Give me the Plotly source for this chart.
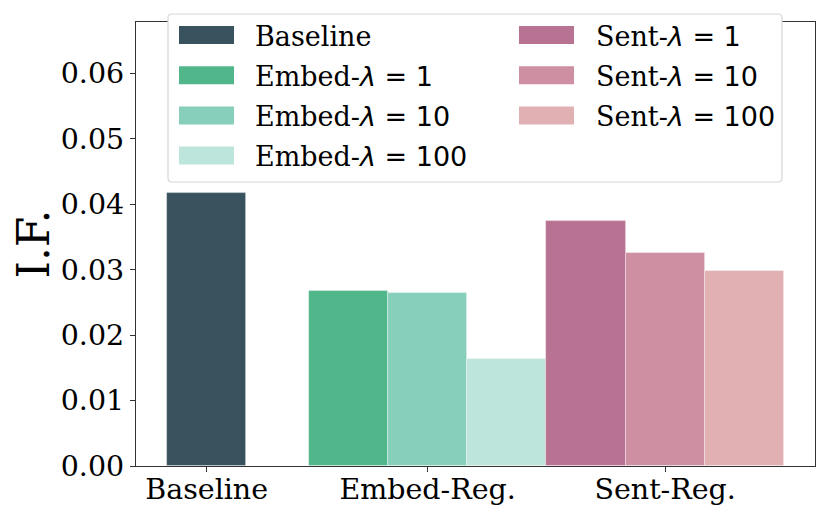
import plotly.graph_objects as go

# ---- data ----
groups = ["Baseline", "Embed-Reg.", "Sent-Reg."]
baseline_name = "Baseline"
baseline_vals = [0.0417]
lambdas = [1, 10, 100]
embed_vals = [0.0268, 0.0264, 0.0163]
sent_vals = [0.0374, 0.0325, 0.0298]
yticks = [0.00, 0.01, 0.02, 0.03, 0.04, 0.05, 0.06]

# ---- style ----
baseline_color = "#39535e"
embed_colors = ["#52b68b", "#87cfba", "#bde5dc"]
sent_colors = ["#b87393", "#cf8fa3", "#e1b0b3"]
SERIF = "DejaVu Serif"
SANS = "DejaVu Sans"

# page is offset by the default 8px body margin
OFF = 8
W, H = 830 - 2 * OFF, 519 - 2 * OFF
# plot area in page pixels: x 136..815, y 22..466
PL, PR, PT, PB = 136, 815, 22, 466
L, T = PL - OFF, PT - OFF
R = W - (PR - OFF)
B = H - (PB - OFF)
pw, ph = PR - PL, PB - PT

group_pos = [0.0695, 1.0, 2.0]
bw = 1 / 3
offsets = [-bw, 0.0, bw]
edge = dict(color="rgba(255,255,255,0.45)", width=0.8)

fig = go.Figure()
fig.add_trace(go.Bar(x=[group_pos[0]], y=baseline_vals, width=bw, name=baseline_name,
                     marker=dict(color=baseline_color, line=edge), showlegend=False))
for i, lam in enumerate(lambdas):
    fig.add_trace(go.Bar(x=[group_pos[1] + offsets[i]], y=[embed_vals[i]], width=bw, name=f"Embed-λ = {lam}",
                         marker=dict(color=embed_colors[i], line=edge), showlegend=False))
for i, lam in enumerate(lambdas):
    fig.add_trace(go.Bar(x=[group_pos[2] + offsets[i]], y=[sent_vals[i]], width=bw, name=f"Sent-λ = {lam}",
                         marker=dict(color=sent_colors[i], line=edge), showlegend=False))

# ---- manual legend (matplotlib-like, two columns); coordinates in page pixels ----
def px2x(px):
    return (px - PL) / pw

def py2y(py):
    return (PB - py) / ph

shapes = []
annotations = []
bx0, bx1, by0, by1, r = 168, 782, 14, 182, 4
path = (f"M {px2x(bx0 + r)} {py2y(by0)} L {px2x(bx1 - r)} {py2y(by0)} "
        f"Q {px2x(bx1)} {py2y(by0)} {px2x(bx1)} {py2y(by0 + r)} "
        f"L {px2x(bx1)} {py2y(by1 - r)} Q {px2x(bx1)} {py2y(by1)} {px2x(bx1 - r)} {py2y(by1)} "
        f"L {px2x(bx0 + r)} {py2y(by1)} Q {px2x(bx0)} {py2y(by1)} {px2x(bx0)} {py2y(by1 - r)} "
        f"L {px2x(bx0)} {py2y(by0 + r)} Q {px2x(bx0)} {py2y(by0)} {px2x(bx0 + r)} {py2y(by0)} Z")
shapes.append(dict(type="path", path=path, xref="paper", yref="paper", layer="above",
                   fillcolor="white", line=dict(color="#d6d6d6", width=1.2)))

def math_label(prefix, lam):
    return f"{prefix}-<span style='font-family:{SANS}'><i>λ</i> = {lam}</span>"

col1 = [(baseline_name, baseline_color)] + [(math_label("Embed", l), c) for l, c in zip(lambdas, embed_colors)]
col2 = [(math_label("Sent", l), c) for l, c in zip(lambdas, sent_colors)]
row_c = [35, 75.2, 115.4, 155.6]
for cols, sx0, tx in [(col1, 179, 253), (col2, 519, 594)]:
    for k, (txt, c) in enumerate(cols):
        yc = row_c[k]
        shapes.append(dict(type="rect", xref="paper", yref="paper", layer="above",
                           x0=px2x(sx0), x1=px2x(sx0 + 55), y0=py2y(yc - 9), y1=py2y(yc + 9),
                           fillcolor=c, line=dict(width=0)))
        annotations.append(dict(text=txt, xref="paper", yref="paper", x=px2x(tx), y=py2y(yc + 1),
                                xanchor="left", yanchor="middle", showarrow=False,
                                font=dict(family=SERIF, size=27, color="black")))

axis_common = dict(showline=True, linecolor="#333333", linewidth=1.2, mirror=True,
                   ticks="outside", ticklen=5, tickwidth=1.2, tickcolor="#333333",
                   showgrid=False, zeroline=False, automargin=False,
                   tickfont=dict(family=SERIF, size=28.5, color="black"))

fig.update_layout(
    width=W, height=H,
    margin=dict(l=L, r=R, t=T, b=B),
    paper_bgcolor="white", plot_bgcolor="white",
    barmode="overlay", bargap=0,
    shapes=shapes, annotations=annotations,
    xaxis=dict(range=[-0.228, 2.631], tickvals=group_pos, ticktext=groups,
               ticklabelstandoff=-7, **axis_common),
    yaxis=dict(range=[0, 0.0678], tickvals=yticks, ticktext=[f"{v:.2f}" for v in yticks],
               title=dict(text="I.F.", font=dict(family=SERIF, size=44, color="black"), standoff=14),
               **axis_common),
)

fig.write_html("out.html")
